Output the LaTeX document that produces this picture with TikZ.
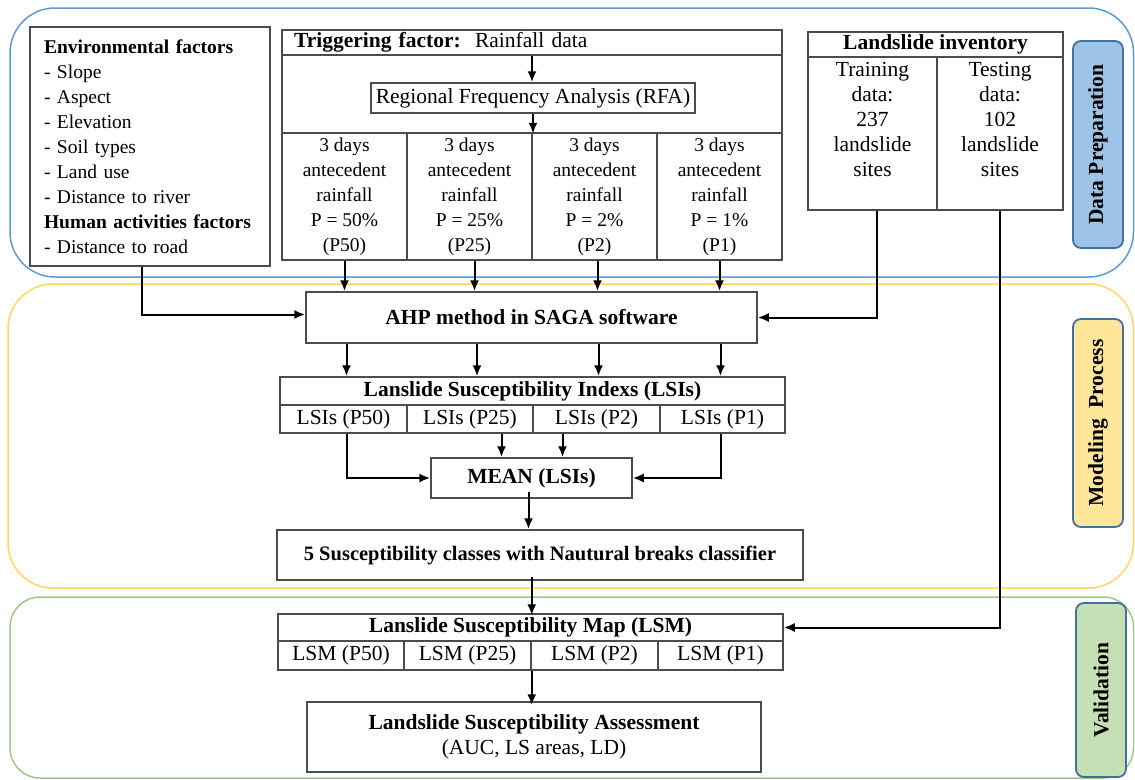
\documentclass[tikz,border=0pt]{standalone}
\usepackage{fontspec}
\setmainfont{Liberation Serif}
\usetikzlibrary{arrows.meta, positioning}
\definecolor{prepline}{RGB}{91,155,213}
\definecolor{modline}{RGB}{255,214,98}
\definecolor{valline}{RGB}{160,200,135}
\definecolor{labline}{RGB}{65,113,156}
\definecolor{prepfill}{RGB}{157,195,230}
\definecolor{modfill}{RGB}{255,230,153}
\definecolor{valfill}{RGB}{197,224,180}
\tikzset{
x=1pt, y=-1pt, % pixel grid of the layout, y downwards
cell/.style={draw=black!70, line width=1.5pt, inner sep=0pt, align=center, font=\fontsize{21.5}{25}\selectfont}, % every box of the chart
small/.style={font=\fontsize{19.5}{25}\selectfont}, % the denser boxes
flow/.style={-{Latex[length=11pt,width=9pt]}, line width=2pt}, % arrows between boxes
region/.style={line width=1.5pt, rounded corners=45pt}, % the three stage panels
sidelab/.style={draw=labline, line width=1.8pt, rounded corners=8pt, rotate=90, minimum height=50pt, font=\fontsize{21.5}{24}\selectfont\bfseries}, % stage names
}

\begin{document}
\begin{tikzpicture}
\useasboundingbox (0,0) rectangle (1135,779);

% stage panels
\draw[region, prepline] (10,8) rectangle (1133.5,277);
\draw[region, modline] (8,284) rectangle (1133.5,588);
\draw[region, valline, rounded corners=30pt] (10,597) rectangle (1133.5,778);

\node[sidelab, fill=prepfill, minimum width=207pt] at (1098,144.5) (prep) {Data Preparation};
\node[sidelab, fill=modfill, minimum width=208pt] at (1098,423) (model) {Modeling\ \ Process};
\node[sidelab, fill=valfill, minimum width=174pt] at (1101,690) (valid) {Validation};

% data preparation
\node[cell, small, minimum width=240pt, minimum height=239pt, text width=212pt, align=left] at (150,146.5) (env) {\textbf{Environmental factors}\\- Slope\\- Aspect\\- Elevation\\- Soil types\\- Land use\\- Distance to river\\\textbf{Human activities factors}\\- Distance to road};

\node[cell, minimum width=500pt, minimum height=25pt, text width=476pt, align=left] at (532,42.5) (trighead) {\textbf{Triggering factor:}\ \ Rainfall data};
\node[cell, minimum width=500pt, minimum height=78pt] at (532,94) (trigmid) {};
\node[cell, minimum width=324pt, minimum height=30pt] at (533,98) (rfa) {Regional Frequency Analysis (RFA)};
\node[cell, small, minimum width=125pt, minimum height=127pt] at (344.5,196.5) (p50) {3 days\\antecedent\\rainfall\\P = 50\%\\(P50)};
\node[cell, small, minimum width=125pt, minimum height=127pt] at (469.5,196.5) (p25) {3 days\\antecedent\\rainfall\\P = 25\%\\(P25)};
\node[cell, small, minimum width=125pt, minimum height=127pt] at (594.5,196.5) (p2) {3 days\\antecedent\\rainfall\\P = 2\%\\(P2)};
\node[cell, small, minimum width=125pt, minimum height=127pt] at (719.5,196.5) (p1) {3 days\\antecedent\\rainfall\\P = 1\%\\(P1)};

\node[cell, minimum width=255pt, minimum height=25pt] at (935.5,44.5) (invhead) {\textbf{Landslide inventory}};
\node[cell, minimum width=129pt, minimum height=153pt, text depth=28pt] at (872.5,133.5) (train) {Training\\data:\\237\\landslide\\sites};
\node[cell, minimum width=126pt, minimum height=153pt, text depth=28pt] at (1000,133.5) (test) {Testing\\data:\\102\\landslide\\sites};

% modeling process
\node[cell, minimum width=451pt, minimum height=51pt] at (531.5,317.5) (ahp) {\textbf{AHP method in SAGA software}};

\node[cell, minimum width=505pt, minimum height=28pt] at (532.5,391) (lsihead) {\textbf{Lanslide Susceptibility Indexs (LSIs)}};
\node[cell, minimum width=127pt, minimum height=28pt] at (343.5,419) (lsi50) {LSIs (P50)};
\node[cell, minimum width=126pt, minimum height=28pt] at (470,419) (lsi25) {LSIs (P25)};
\node[cell, minimum width=127pt, minimum height=28pt] at (596.5,419) (lsi2) {LSIs (P2)};
\node[cell, minimum width=125pt, minimum height=28pt] at (722.5,419) (lsi1) {LSIs (P1)};

\node[cell, minimum width=201pt, minimum height=40pt] at (531.5,478) (mean) {\textbf{MEAN (LSIs)}};
\node[cell, font=\fontsize{20.5}{25}\selectfont, minimum width=526pt, minimum height=50pt] at (540,555) (classes) {\textbf{5 Susceptibility classes with Nautural breaks classifier}};

% validation
\node[cell, minimum width=505pt, minimum height=27pt] at (530.5,627.5) (lsmhead) {\textbf{Lanslide Susceptibility Map (LSM)}};
\node[cell, minimum width=126pt, minimum height=29pt] at (341,655.5) (lsm50) {LSM (P50)};
\node[cell, minimum width=127pt, minimum height=29pt] at (467.5,655.5) (lsm25) {LSM (P25)};
\node[cell, minimum width=127pt, minimum height=29pt] at (594.5,655.5) (lsm2) {LSM (P2)};
\node[cell, minimum width=125pt, minimum height=29pt] at (720.5,655.5) (lsm1) {LSM (P1)};

\node[cell, minimum width=454pt, minimum height=70pt] at (534,737) (assess) {\textbf{Landslide Susceptibility Assessment}\\(AUC, LS areas, LD)};

% arrows
\draw[flow] (trighead.south) -- (trighead.south |- rfa.north);
\draw[flow] (rfa.south) -- (rfa.south |- trigmid.south);

\draw[flow] (p50.south) -- (p50.south |- ahp.north);
\draw[flow] ([xshift=5pt]p25.south) -- ([xshift=5pt]p25.south |- ahp.north);
\draw[flow] ([xshift=3pt]p2.south) -- ([xshift=3pt]p2.south |- ahp.north);
\draw[flow] (p1.south) -- (p1.south |- ahp.north);

\draw[flow] ([xshift=-8pt]env.south) |- ([yshift=3pt]ahp.west);
\draw[flow] ([xshift=4pt]train.south) |- (ahp.east);
\draw[flow] (test.south) |- (lsmhead.east);

\draw[flow] ([xshift=3pt]lsi50.north |- ahp.south) -- ([xshift=3pt]lsi50.north |- lsihead.north);
\draw[flow] ([xshift=7pt]lsi25.north |- ahp.south) -- ([xshift=7pt]lsi25.north |- lsihead.north);
\draw[flow] ([xshift=2pt]lsi2.north |- ahp.south) -- ([xshift=2pt]lsi2.north |- lsihead.north);
\draw[flow] ([xshift=-2pt]lsi1.north |- ahp.south) -- ([xshift=-2pt]lsi1.north |- lsihead.north);

\draw[flow] ([xshift=3pt]lsi50.south) |- (mean.west);
\draw[flow] ([xshift=-30pt]mean.north |- lsi25.south) -- ([xshift=-30pt]mean.north);
\draw[flow] ([xshift=31pt]mean.north |- lsi2.south) -- ([xshift=31pt]mean.north);
\draw[flow] ([xshift=-2pt]lsi1.south) |- (mean.east);

\draw[flow] ([xshift=-3pt,yshift=7pt]mean.south) -- ([xshift=-3pt]mean.south |- classes.north);
\draw[flow] ([yshift=4pt]classes.south -| lsm25.south east) -- ([yshift=-2pt]lsmhead.north -| lsm25.south east);
\draw[flow] (lsm25.south east) -- ([yshift=-4pt]lsm25.south east |- assess.north);

\end{tikzpicture}
\end{document}
